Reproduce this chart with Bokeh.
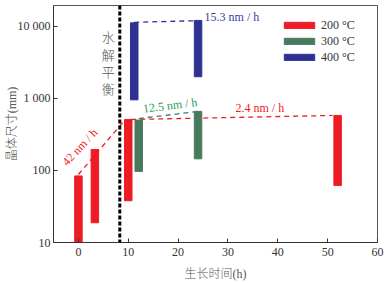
from bokeh.plotting import figure
from bokeh.models import Range1d, FixedTicker, Span, Legend, LegendItem
from bokeh.core.properties import value
from bokeh.embed import file_html
from bokeh.resources import INLINE

# ---- data ----
x_200 = [0, 3.3, 10, 52]
top_200 = [84, 195, 510, 580]
bot_200 = [10, 18.8, 38, 62]

x_300 = [12.1, 24]
top_300 = [500, 660]
bot_300 = [97, 145]

x_400 = [11.2, 24]
top_400 = [11200, 12100]
bot_400 = [955, 2000]

trend_red1_x = [0, 9.3]
trend_red1_y = [88, 500]
trend_red2_x = [10.6, 51]
trend_red2_y = [510, 580]
trend_green_x = [12.1, 24]
trend_green_y = [525, 660]
trend_blue_x = [11.2, 23.8]
trend_blue_y = [11400, 12000]

rate_labels = ["42 nm / h", "12.5 nm / h", "2.4 nm / h", "15.3 nm / h"]
rate_x = [0.3, 18.4, 36.4, 30.8]
rate_y = [212, 800, 725, 13300]
rate_angle = [47, 7, 0, 0]
rate_colors = ["#ED1C24", "#1FA05A", "#ED1C24", "#3C3CA0"]

equil_x = 8.3
series_labels = ["200 °C", "300 °C", "400 °C"]
colors = ["#ED1C24", "#487A5E", "#2E3192"]

x_ticks = [0, 10, 20, 30, 40, 50, 60]
y_ticks = [10, 100, 1000, 10000]
y_tick_labels = ["10", "100", "1 000", "10 000"]
x_title = "生长时间(h)"
y_title = "晶体尺寸(mm)"

FONT = "Liberation Serif"
CJK = "Liberation Serif, Noto Sans CJK SC Light, Noto Sans CJK SC"

p = figure(width=389, height=283, y_axis_type="log",
           x_range=Range1d(-5, 60), y_range=Range1d(10, 19500),
           output_backend="svg", toolbar_location=None,
           min_border_left=53, min_border_right=12, min_border_top=5, min_border_bottom=41)

p.xgrid.grid_line_color = None
p.ygrid.grid_line_color = None
p.outline_line_color = "#555555"
p.background_fill_color = "white"
p.border_fill_color = "white"

p.xaxis.ticker = FixedTicker(ticks=x_ticks)
p.yaxis.ticker = FixedTicker(ticks=y_ticks)
p.yaxis.major_label_overrides = {t: l for t, l in zip(y_ticks, y_tick_labels)}
for ax in (p.xaxis, p.yaxis):
    ax.major_tick_in = 4
    ax.major_tick_out = 0
    ax.minor_tick_line_color = None
    ax.axis_line_color = "#333333"
    ax.major_tick_line_color = "#333333"
    ax.major_label_text_font = FONT
    ax.major_label_text_font_size = "12px"
    ax.major_label_text_color = "#333333"
    ax.axis_label_text_font = CJK
    ax.axis_label_text_font_size = "12px"
    ax.axis_label_text_font_style = "normal"
    ax.axis_label_text_color = "#555555"
p.xaxis.axis_label = x_title
p.yaxis.axis_label = y_title
p.xaxis.major_label_standoff = 5
p.yaxis.major_label_standoff = 3
p.xaxis.axis_label_standoff = 8
p.yaxis.axis_label_standoff = -4

# equilibrium line
p.add_layout(Span(location=equil_x, dimension="height", line_color="black",
                  line_width=3, line_dash="4 2"))
p.text(x=[6.0], y=[8800], text=["水\n解\n平\n衡"], text_font=value(CJK),
       text_font_size="13px", text_color="#555555", text_align="center",
       text_baseline="top", text_line_height=1.15)

# trend lines
p.line(trend_red1_x, trend_red1_y, line_color=colors[0], line_dash="5 4", line_width=1.3)
p.line(trend_red2_x, trend_red2_y, line_color=colors[0], line_dash="5 4", line_width=1.3)
p.line(trend_green_x, trend_green_y, line_color=colors[1], line_dash="5 4", line_width=1.3)
p.line(trend_blue_x, trend_blue_y, line_color=colors[2], line_dash="5 4", line_width=1.3)

# bars
r200 = p.vbar(x=x_200, width=1.5, top=top_200, bottom=bot_200, color=colors[0])
r300 = p.vbar(x=x_300, width=1.5, top=top_300, bottom=bot_300, color=colors[1])
r400 = p.vbar(x=x_400, width=1.5, top=top_400, bottom=bot_400, color=colors[2])

# rate labels
for t, xx, yy, a, c in zip(rate_labels, rate_x, rate_y, rate_angle, rate_colors):
    p.text(x=[xx], y=[yy], text=[t], angle=a, angle_units="deg",
           text_font=value(FONT), text_font_size="12px", text_color=c,
           text_align="center", text_baseline="middle")

legend = Legend(items=[LegendItem(label=l, renderers=[r]) for l, r in
                       zip(series_labels, [r200, r300, r400])],
                location=(227, 177), glyph_width=38, glyph_height=8,
                label_height=16, spacing=0, padding=0, label_standoff=3,
                border_line_color=None, background_fill_alpha=0,
                label_text_font=FONT, label_text_font_size="12px",
                label_text_color="#333333")
p.add_layout(legend)

open("out.html", "w").write(file_html(p, INLINE))
